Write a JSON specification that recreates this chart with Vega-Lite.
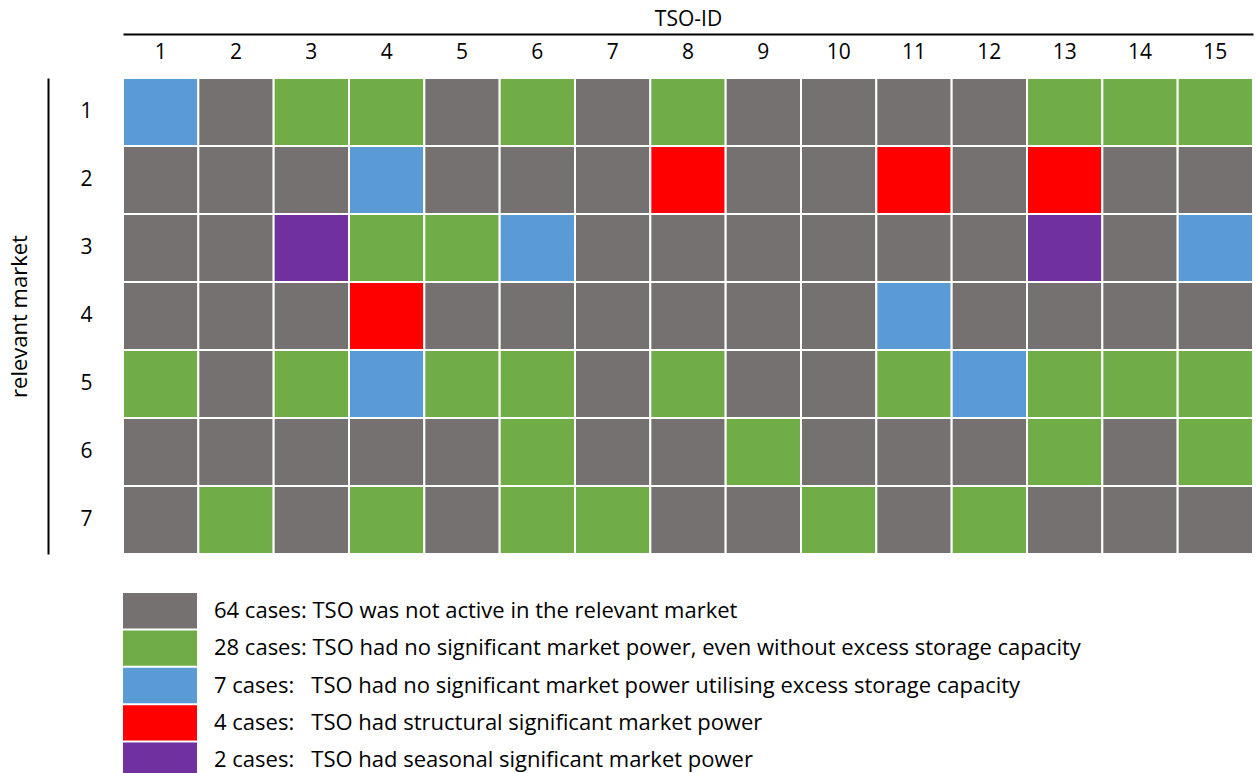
{
  "$schema": "https://vega.github.io/schema/vega-lite/v6.json",
  "padding": {"left": 8, "top": 8, "right": 5, "bottom": 5},
  "background": "white",
  "config": {"view": {"stroke": null}, "font": "Open Sans", "axis": {"labelFont": "Open Sans", "titleFont": "Open Sans", "labelColor": "black", "titleColor": "black"}},
  "datasets": {
    "cells": [
      {"tso":1,"market":1,"status":"B"},{"tso":2,"market":1,"status":"N"},{"tso":3,"market":1,"status":"G"},{"tso":4,"market":1,"status":"G"},{"tso":5,"market":1,"status":"N"},{"tso":6,"market":1,"status":"G"},{"tso":7,"market":1,"status":"N"},{"tso":8,"market":1,"status":"G"},{"tso":9,"market":1,"status":"N"},{"tso":10,"market":1,"status":"N"},{"tso":11,"market":1,"status":"N"},{"tso":12,"market":1,"status":"N"},{"tso":13,"market":1,"status":"G"},{"tso":14,"market":1,"status":"G"},{"tso":15,"market":1,"status":"G"},
      {"tso":1,"market":2,"status":"N"},{"tso":2,"market":2,"status":"N"},{"tso":3,"market":2,"status":"N"},{"tso":4,"market":2,"status":"B"},{"tso":5,"market":2,"status":"N"},{"tso":6,"market":2,"status":"N"},{"tso":7,"market":2,"status":"N"},{"tso":8,"market":2,"status":"R"},{"tso":9,"market":2,"status":"N"},{"tso":10,"market":2,"status":"N"},{"tso":11,"market":2,"status":"R"},{"tso":12,"market":2,"status":"N"},{"tso":13,"market":2,"status":"R"},{"tso":14,"market":2,"status":"N"},{"tso":15,"market":2,"status":"N"},
      {"tso":1,"market":3,"status":"N"},{"tso":2,"market":3,"status":"N"},{"tso":3,"market":3,"status":"P"},{"tso":4,"market":3,"status":"G"},{"tso":5,"market":3,"status":"G"},{"tso":6,"market":3,"status":"B"},{"tso":7,"market":3,"status":"N"},{"tso":8,"market":3,"status":"N"},{"tso":9,"market":3,"status":"N"},{"tso":10,"market":3,"status":"N"},{"tso":11,"market":3,"status":"N"},{"tso":12,"market":3,"status":"N"},{"tso":13,"market":3,"status":"P"},{"tso":14,"market":3,"status":"N"},{"tso":15,"market":3,"status":"B"},
      {"tso":1,"market":4,"status":"N"},{"tso":2,"market":4,"status":"N"},{"tso":3,"market":4,"status":"N"},{"tso":4,"market":4,"status":"R"},{"tso":5,"market":4,"status":"N"},{"tso":6,"market":4,"status":"N"},{"tso":7,"market":4,"status":"N"},{"tso":8,"market":4,"status":"N"},{"tso":9,"market":4,"status":"N"},{"tso":10,"market":4,"status":"N"},{"tso":11,"market":4,"status":"B"},{"tso":12,"market":4,"status":"N"},{"tso":13,"market":4,"status":"N"},{"tso":14,"market":4,"status":"N"},{"tso":15,"market":4,"status":"N"},
      {"tso":1,"market":5,"status":"G"},{"tso":2,"market":5,"status":"N"},{"tso":3,"market":5,"status":"G"},{"tso":4,"market":5,"status":"B"},{"tso":5,"market":5,"status":"G"},{"tso":6,"market":5,"status":"G"},{"tso":7,"market":5,"status":"N"},{"tso":8,"market":5,"status":"G"},{"tso":9,"market":5,"status":"N"},{"tso":10,"market":5,"status":"N"},{"tso":11,"market":5,"status":"G"},{"tso":12,"market":5,"status":"B"},{"tso":13,"market":5,"status":"G"},{"tso":14,"market":5,"status":"G"},{"tso":15,"market":5,"status":"G"},
      {"tso":1,"market":6,"status":"N"},{"tso":2,"market":6,"status":"N"},{"tso":3,"market":6,"status":"N"},{"tso":4,"market":6,"status":"N"},{"tso":5,"market":6,"status":"N"},{"tso":6,"market":6,"status":"G"},{"tso":7,"market":6,"status":"N"},{"tso":8,"market":6,"status":"N"},{"tso":9,"market":6,"status":"G"},{"tso":10,"market":6,"status":"N"},{"tso":11,"market":6,"status":"N"},{"tso":12,"market":6,"status":"N"},{"tso":13,"market":6,"status":"G"},{"tso":14,"market":6,"status":"N"},{"tso":15,"market":6,"status":"G"},
      {"tso":1,"market":7,"status":"N"},{"tso":2,"market":7,"status":"G"},{"tso":3,"market":7,"status":"N"},{"tso":4,"market":7,"status":"G"},{"tso":5,"market":7,"status":"N"},{"tso":6,"market":7,"status":"G"},{"tso":7,"market":7,"status":"G"},{"tso":8,"market":7,"status":"N"},{"tso":9,"market":7,"status":"N"},{"tso":10,"market":7,"status":"G"},{"tso":11,"market":7,"status":"N"},{"tso":12,"market":7,"status":"G"},{"tso":13,"market":7,"status":"N"},{"tso":14,"market":7,"status":"N"},{"tso":15,"market":7,"status":"N"}
    ],
    "legend": [
      {"ord":1,"status":"N","label":"64 cases: TSO was not active in the relevant market"},
      {"ord":2,"status":"G","label":"28 cases: TSO had no significant market power, even without excess storage capacity"},
      {"ord":3,"status":"B","label":"7 cases:\u00a0\u00a0 TSO had no significant market power utilising excess storage capacity"},
      {"ord":4,"status":"R","label":"4 cases:\u00a0\u00a0 TSO had structural significant market power"},
      {"ord":5,"status":"P","label":"2 cases:\u00a0\u00a0 TSO had seasonal significant market power"}
    ]
  },
  "bounds": "flush",
  "spacing": 39,
  "vconcat": [
    {
      "width": 1130,
      "height": 476,
      "data": {"name": "cells"},
      "layer": [
        {
          "mark": {"type": "rect", "stroke": "white", "strokeWidth": 2},
          "encoding": {
            "x": {"field": "tso", "type": "ordinal", "scale": {"paddingInner": 0, "paddingOuter": 0},
                  "axis": {"orient": "top", "domain": false, "ticks": false, "tickSize": 0, "labelAngle": 0, "labelFontSize": 21, "labelBaseline": "middle", "labelPadding": 26, "title": null}},
            "y": {"field": "market", "type": "ordinal", "scale": {"paddingInner": 0, "paddingOuter": 0},
                  "axis": {"orient": "left", "domain": false, "ticks": false, "tickSize": 0, "labelFontSize": 21, "labelAlign": "center", "labelPadding": 37, "title": null}},
            "color": {"field": "status", "type": "nominal",
                      "scale": {"domain": ["N", "G", "B", "R", "P"], "range": ["#767171", "#70AD47", "#5B9BD5", "#FF0000", "#7030A0"]},
                      "legend": null}
          }
        },
        {
          "mark": {"type": "rect", "opacity": 0},
          "encoding": {
            "x": {"field": "tso", "type": "ordinal",
                  "axis": {"orient": "top", "offset": 44, "domain": true, "domainColor": "black", "domainWidth": 2, "labels": false, "ticks": false, "tickSize": 0, "grid": false, "title": "TSO-ID", "titleFontSize": 21, "titleFontWeight": "normal", "titlePadding": 5}},
            "y": {"field": "market", "type": "ordinal",
                  "axis": {"orient": "left", "offset": 75, "domain": true, "domainColor": "black", "domainWidth": 2, "labels": false, "ticks": false, "tickSize": 0, "grid": false, "title": "relevant market", "titleFontSize": 22, "titleFontWeight": "normal", "titlePadding": 17}}
          }
        }
      ],
      "resolve": {"axis": {"x": "independent", "y": "independent"}}
    },
    {
      "width": 74,
      "height": 185,
      "data": {"name": "legend"},
      "encoding": {
        "y": {"field": "ord", "type": "ordinal", "axis": null, "scale": {"paddingInner": 0.054, "paddingOuter": 0}}
      },
      "layer": [
        {
          "mark": {"type": "rect"},
          "encoding": {
            "color": {"field": "status", "type": "nominal",
                      "scale": {"domain": ["N", "G", "B", "R", "P"], "range": ["#767171", "#70AD47", "#5B9BD5", "#FF0000", "#7030A0"]},
                      "legend": null}
          }
        },
        {
          "mark": {"type": "text", "align": "left", "baseline": "middle", "dx": 17, "fontSize": 22, "font": "Open Sans", "color": "black"},
          "encoding": {
            "x": {"value": "width"},
            "text": {"field": "label"}
          }
        }
      ]
    }
  ]
}
